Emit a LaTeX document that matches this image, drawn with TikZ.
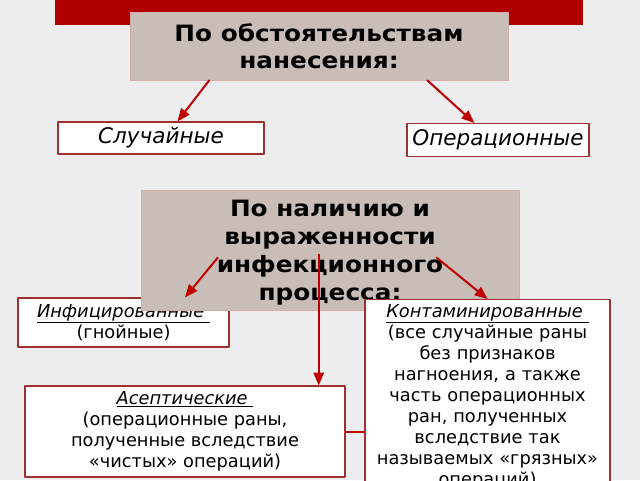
\documentclass[tikz,border=0pt]{standalone}
\usepackage{fontspec}
\setmainfont{DejaVu Sans}
\newfontfamily\headfont[FakeStretch=1.1]{DejaVu Sans}
\usetikzlibrary{arrows,calc}
\definecolor{barred}{HTML}{B00000}
\definecolor{arrowred}{HTML}{C00000}
\definecolor{boxred}{HTML}{A0302F}
\definecolor{boxgray}{HTML}{C9BDB7}
\definecolor{boxrim}{HTML}{D4AAAA}
\definecolor{bggray}{HTML}{EDEDED}

\begin{document}
\begin{tikzpicture}[line cap=round,line join=round,>=triangle 45,x=1pt,y=-1pt,
    graybox/.style={draw=boxrim,fill=boxgray,line width=0.6pt,align=center,inner sep=3pt},
    whitebox/.style={draw=boxred,fill=white,line width=1.2pt,align=center,inner sep=3pt},
    link/.style={->,draw=arrowred,line width=2pt}]
		\clip(0,0) rectangle (640,480);
		\fill[bggray] (0,0) rectangle (640,480);
		\fill[barred] (55,0) rectangle (583,25);
		% first classification
		\node[graybox,minimum width=378pt,minimum height=68pt,font=\fontsize{22.5}{27}\headfont\bfseries] (circ) at (319,46) {По обстоятельствам\\нанесения:};
		\node[whitebox,minimum width=206pt,minimum height=32pt,font=\fontsize{21.5}{24}\selectfont\itshape] (rand) at (161,138) {Случайные};
		\node[whitebox,minimum width=182pt,minimum height=33pt,font=\fontsize{21.5}{24}\selectfont\itshape] (oper) at (498,140) {Операционные};
		\draw[link] ($(circ.south west)!0.21!(circ.south east)$) -- ($(rand.north west)!0.58!(rand.north east)$);
		\draw[link] ($(circ.south west)!0.786!(circ.south east)$) -- ($(oper.north west)!0.37!(oper.north east)$);
		% second classification
		\node[whitebox,minimum width=211pt,minimum height=49pt,font=\fontsize{17.8}{21}\selectfont] (inf) at (123.5,322.5) {\underline{\textit{Инфицированные\ }}\\(гнойные)};
		\node[graybox,minimum width=378pt,minimum height=120pt] (infl) at (330,250) {};
		\node[align=center,font=\fontsize{22.5}{28}\headfont\bfseries] (infltext) at (330,253) {По наличию и\\выраженности\\инфекционного\\процесса:};
		\node[whitebox,anchor=north,minimum width=243pt,text width=235pt,inner sep=5pt,font=\fontsize{17.8}{21}\selectfont] (cont) at (487.5,299) {\underline{\textit{Контаминированные\ }}\\(все случайные раны\\без признаков\\нагноения, а также\\часть операционных\\ран, полученных\\вследствие так\\называемых «грязных»\\операций)};
		\node[whitebox,minimum width=320pt,minimum height=91pt,font=\fontsize{17.8}{21}\selectfont] (asep) at (185,431.5) {\underline{\textit{Асептические\ }}\\(операционные раны,\\полученные вследствие\\«чистых» операций)};
		\coordinate (down) at ($(infl.north west)+(178,65)$);
		\draw[link] ($(infl.north west)+(77,68)$) -- ($(inf.north west)!0.79!(inf.north east)$);
		\draw[link] ($(infl.north west)+(296,68)$) -- (cont.north);
		\draw[link] (down) -- (down |- asep.north);
		\draw[draw=arrowred,line width=2pt] (asep.east) -- (asep.east -| cont.west);
	\end{tikzpicture}
\end{document}
